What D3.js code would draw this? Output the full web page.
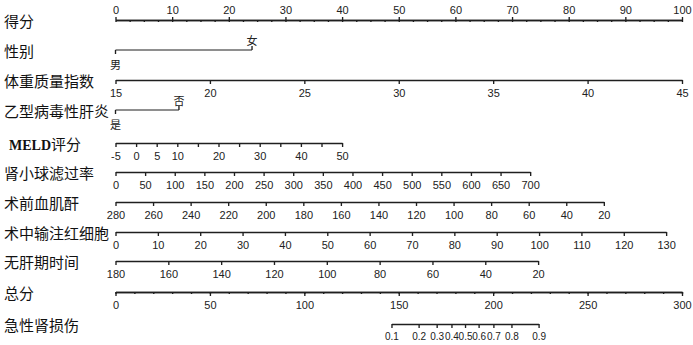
<!DOCTYPE html>
<html>
<head>
<meta charset="utf-8">
<script src="https://cdn.jsdelivr.net/npm/d3@7"></script>
<style>
  body { margin: 0; background: #fff; }
  .lab { font-family: "Noto Sans CJK SC", sans-serif; font-size: 15px; fill: #111; }
  .axis path, .axis line { stroke: #1f1f1f; stroke-width: 1.35; fill: none; }
  .axis text { font-family: Arial, "Liberation Sans", sans-serif; font-size: 11px; fill: #222; }
  .risk text { font-size: 10px; }
  .lvl { font-family: "Noto Sans CJK SC", sans-serif; font-size: 11px; fill: #222; }
</style>
</head>
<body>
<svg id="chart" width="693" height="345"></svg>
<script>
// points scale (0-100)
const pointTicks = d3.range(0, 101, 10);
const pointMinor = d3.range(0, 100.1, 2.5);

// categorical predictors
const sexLevels = ['男', '女'];
const sexPoints = [0, 24.1];
const hbvLevels = ['是', '否'];
const hbvPoints = [0, 11.2];

// continuous predictors: value range and the points at each end
const bmiTicks = [15, 20, 25, 30, 35, 40, 45];
const bmiRange = [15, 45], bmiPts = [0, 100];
const meldTicks = [-5, 0, 5, 10, 15, 20, 25, 30, 35, 40, 45, 50];
const meldLabels = [-5, 0, 5, 10, 20, 30, 40, 50];
const meldRange = [-5, 50], meldPts = [0, 40.0];
const gfrTicks = d3.range(0, 701, 50);
const gfrRange = [0, 700], gfrPts = [0, 73.2];
const scrTicks = d3.range(280, 19, -20);
const scrRange = [280, 20], scrPts = [0, 86.2];
const rbcTicks = d3.range(0, 131, 10);
const rbcRange = [0, 130], rbcPts = [0, 97.2];
const anhepTicks = d3.range(180, 19, -20);
const anhepRange = [180, 20], anhepPts = [0, 74.6];

// total points and risk
const totalTicks = d3.range(0, 301, 50);
const totalMinor = d3.range(0, 301, 10);
const riskTicks = [0.1, 0.2, 0.3, 0.4, 0.5, 0.6, 0.7, 0.8, 0.9];
const riskIntercept = 185.1;   // total points at p = 0.5
const riskSlope = 17.73;       // total points per logit unit

const rowLabels = ['得分', '性别', '体重质量指数', '乙型病毒性肝炎', 'MELD评分', '肾小球滤过率',
  '术前血肌酐', '术中输注红细胞', '无肝期时间', '总分', '急性肾损伤'];
const rowY = [20, 50, 80, 110, 143, 172, 202, 232, 261, 292, 324];

const svg = d3.select('#chart');
const x = d3.scaleLinear().domain([0, 100]).range([115.5, 682]);
const xTot = d3.scaleLinear().domain([0, 300]).range([115.5, 682]);

// row labels
rowLabels.forEach((t, i) => {
  const txt = svg.append('text').attr('class', 'lab')
    .attr('x', t.startsWith('MELD') ? 9 : 4).attr('y', rowY[i] + 7);
  if (t.startsWith('MELD')) {
    txt.append('tspan').text('MELD')
      .style('font-family', '"Liberation Serif", serif').style('font-size', '14px')
      .style('font-weight', 'bold');
    txt.append('tspan').text('评分');
  } else {
    txt.text(t);
  }
});

function cleanAxis(g) {
  g.attr('font-size', null).attr('font-family', null).attr('class', 'axis');
}

// top points axis
const gTop = svg.append('g').attr('transform', `translate(0,${rowY[0]})`);
gTop.append('g').call(d3.axisBottom(x).tickValues(pointMinor).tickSize(2).tickSizeOuter(0).tickFormat('')).call(cleanAxis);
gTop.append('g').call(d3.axisTop(x).tickValues(pointTicks).tickSize(3).tickSizeOuter(0).tickPadding(3)).call(cleanAxis);

// categorical predictor lines
function catAxis(y, levels, pts) {
  const g = svg.append('g').attr('class', 'axis');
  g.append('path').attr('d', `M${x(pts[0])},${y}H${x(pts[1])}`).style('stroke-width', 1);
  g.append('line').attr('x1', x(pts[0])).attr('x2', x(pts[0])).attr('y1', y).attr('y2', y + 4);
  g.append('line').attr('x1', x(pts[1])).attr('x2', x(pts[1])).attr('y1', y).attr('y2', y - 4);
  svg.append('text').attr('class', 'lvl').attr('x', x(pts[0])).attr('y', y + 14)
    .attr('text-anchor', 'middle').attr('dominant-baseline', 'central').text(levels[0]);
  svg.append('text').attr('class', 'lvl').attr('x', x(pts[1])).attr('y', y - 10)
    .attr('text-anchor', 'middle').attr('dominant-baseline', 'central').text(levels[1]);
}
catAxis(rowY[1], sexLevels, sexPoints);
catAxis(rowY[3], hbvLevels, hbvPoints);

// continuous predictor axes
function numAxis(y, range, pts, ticks, labels) {
  const s = d3.scaleLinear().domain(range).range([x(pts[0]), x(pts[1])]);
  svg.append('g').attr('transform', `translate(0,${y})`)
    .call(d3.axisBottom(s).tickValues(ticks).tickSize(4).tickSizeOuter(0).tickPadding(5)
      .tickFormat(d => labels.includes(d) ? d : ''))
    .call(cleanAxis);
}
numAxis(rowY[2], bmiRange, bmiPts, bmiTicks, bmiTicks);
numAxis(rowY[4], meldRange, meldPts, meldTicks, meldLabels);
numAxis(rowY[5], gfrRange, gfrPts, gfrTicks, gfrTicks);
numAxis(rowY[6], scrRange, scrPts, scrTicks, scrTicks);
numAxis(rowY[7], rbcRange, rbcPts, rbcTicks, rbcTicks);
numAxis(rowY[8], anhepRange, anhepPts, anhepTicks, anhepTicks);

// total points axis
const gTot = svg.append('g').attr('transform', `translate(0,${rowY[9]})`);
gTot.append('g').call(d3.axisBottom(xTot).tickValues(totalMinor).tickSize(2).tickSizeOuter(0).tickFormat('')).call(cleanAxis);
gTot.append('g').call(d3.axisBottom(xTot).tickValues(totalTicks).tickSize(4).tickSizeOuter(0).tickPadding(5)).call(cleanAxis);

// risk axis (logit scale mapped through total points)
const logit = p => Math.log(p / (1 - p));
const lpTicks = riskTicks.map(logit);
const lp = d3.scaleLinear()
  .domain([lpTicks[0], lpTicks[lpTicks.length - 1]])
  .range([xTot(riskIntercept + riskSlope * lpTicks[0]), xTot(riskIntercept + riskSlope * lpTicks[lpTicks.length - 1])]);
svg.append('g').attr('transform', `translate(0,${rowY[10]})`)
  .call(d3.axisBottom(lp).tickValues(lpTicks).tickSize(4).tickSizeOuter(0).tickPadding(5)
    .tickFormat((d, i) => riskTicks[i]))
  .call(cleanAxis)
  .classed('risk', true);
</script>
</body>
</html>
